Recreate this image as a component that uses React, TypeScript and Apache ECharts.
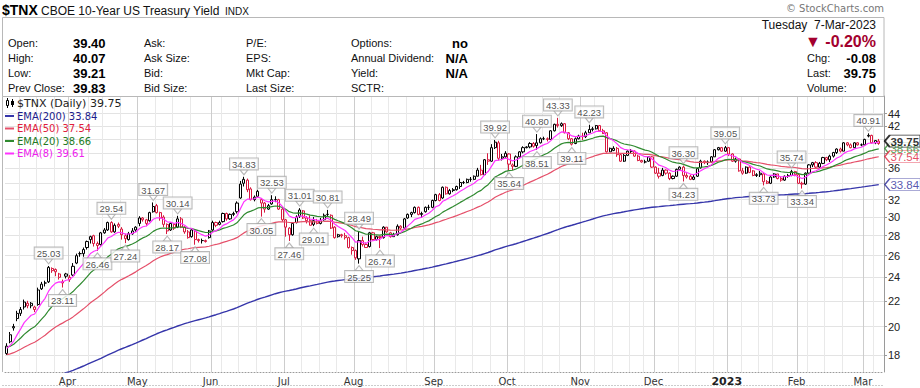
import React, { useEffect, useRef } from 'react';
import * as echarts from 'echarts';

// ---------- calendar ----------
const HOLIDAYS = ['2022-04-15', '2022-05-30', '2022-06-20', '2022-07-04', '2022-09-05', '2022-11-24', '2022-12-26', '2023-01-02', '2023-01-16', '2023-02-20'];
const FIRST_DAY = '2022-03-08';
const LAST_DAY = '2023-03-07';
const PREV_CLOSE_BEFORE_START = 17.8;

// ---------- daily candles: [open, close, low, high] ----------
const mar2022 = [
  [18.1, 18.6, 18.0, 18.8], [18.9, 19.4, 18.8, 19.6], [19.9, 20.0, 19.7, 20.2], [20.6, 21.0, 20.4, 21.2],
  [21.0, 21.3, 20.8, 21.5], [21.5, 21.9, 21.3, 22.1], [21.8, 21.6, 21.4, 22.0], [21.6, 21.8, 21.4, 21.9],
  [21.5, 21.3, 21.1, 21.6], [21.7, 22.9, 21.6, 23.1], [23.0, 23.4, 22.9, 23.6], [23.5, 23.5, 23.2, 23.7],
  [23.6, 24.9, 23.5, 25.03], [24.8, 24.6, 24.4, 24.9], [24.7, 24.5, 24.1, 24.8], [24.3, 24.0, 23.8, 24.4],
  [23.6, 23.5, 23.11, 23.8], [24.1, 24.3, 23.9, 24.4],
];
const apr2022 = [
  [23.8, 24.0, 23.6, 24.2], [24.2, 25.0, 24.1, 25.3], [25.3, 26.0, 25.2, 26.2], [26.2, 26.2, 25.9, 26.4],
  [26.2, 26.6, 25.9, 26.8], [26.8, 27.4, 26.6, 27.5], [27.6, 27.9, 27.2, 28.0], [28.0, 27.2, 26.9, 28.1],
  [27.2, 27.0, 26.46, 27.4], [27.1, 28.3, 27.0, 28.4], [28.3, 28.6, 28.2, 28.8], [28.6, 29.4, 28.5, 29.5],
  [29.4, 28.4, 28.3, 29.54], [28.4, 29.1, 28.3, 29.3], [29.2, 29.0, 28.8, 29.4], [28.7, 28.1, 27.6, 28.9],
  [28.0, 27.7, 27.24, 28.2], [27.6, 28.2, 27.5, 28.4], [28.2, 28.5, 28.1, 28.8], [28.6, 28.9, 28.4, 29.0],
];
const may2022 = [
  [29.3, 29.9, 29.0, 30.1], [29.9, 29.7, 29.5, 30.0], [29.7, 29.3, 29.0, 29.8], [29.6, 30.5, 29.5, 30.6],
  [30.6, 31.2, 30.5, 31.67], [31.3, 30.5, 30.4, 31.5], [30.5, 29.9, 29.6, 30.6], [30.0, 29.2, 28.9, 30.2],
  [29.2, 28.5, 28.17, 29.3], [28.6, 29.3, 28.5, 29.4], [29.2, 28.8, 28.6, 29.3], [28.9, 29.8, 28.8, 30.14],
  [29.8, 28.9, 28.8, 30.0], [28.9, 28.4, 28.2, 29.0], [28.4, 27.8, 27.7, 28.6], [27.9, 28.6, 27.8, 28.7],
  [28.5, 27.6, 27.08, 28.6], [27.6, 27.5, 27.3, 27.7], [27.5, 27.5, 27.2, 27.7], [27.5, 27.4, 27.3, 27.6],
  [27.8, 28.5, 27.7, 28.6],
];
const jun2022 = [
  [28.6, 29.4, 28.5, 29.6], [29.4, 29.1, 28.9, 29.5], [29.2, 29.4, 29.1, 29.6], [29.5, 30.4, 29.4, 30.5],
  [30.4, 29.8, 29.6, 30.5], [29.8, 30.3, 29.7, 30.4], [30.3, 30.4, 30.1, 30.6], [30.6, 31.6, 30.4, 31.8],
  [32.2, 33.9, 32.1, 34.3], [34.0, 34.5, 33.6, 34.83], [34.4, 33.2, 32.9, 34.6], [33.3, 32.0, 31.9, 33.5],
  [32.0, 32.3, 31.8, 32.5], [32.4, 33.0, 32.3, 33.2], [32.0, 31.6, 30.05, 32.2], [31.6, 30.9, 30.5, 31.7],
  [30.9, 31.3, 30.8, 31.5], [31.5, 32.0, 31.4, 32.53], [32.0, 32.0, 31.7, 32.4], [32.0, 30.9, 30.8, 32.1],
  [30.9, 29.7, 29.5, 31.0],
];
const jul2022 = [
  [29.7, 28.9, 27.9, 29.8], [28.8, 28.1, 27.46, 28.9], [28.1, 29.3, 28.0, 29.4], [29.4, 30.0, 29.3, 30.2],
  [30.1, 30.8, 29.9, 31.01], [30.7, 29.9, 29.8, 30.8], [29.9, 29.6, 29.3, 30.1], [29.6, 29.1, 29.1, 30.2],
  [29.2, 29.6, 29.01, 30.0], [29.6, 29.3, 29.2, 29.8], [29.3, 29.6, 29.2, 29.9], [29.7, 30.2, 29.6, 30.4],
  [30.3, 30.3, 30.1, 30.81], [30.2, 28.8, 28.7, 30.3], [28.9, 27.8, 27.7, 29.0], [27.9, 28.1, 27.8, 28.2],
  [28.1, 28.0, 27.8, 28.2], [28.0, 27.8, 27.6, 28.3], [27.8, 26.8, 26.7, 27.9], [26.8, 26.5, 26.1, 26.9],
];
const aug2022 = [
  [26.5, 25.8, 25.6, 26.6], [25.7, 27.5, 25.25, 28.49], [27.5, 27.1, 26.9, 27.9], [27.1, 26.8, 26.8, 27.3],
  [26.9, 28.3, 26.8, 28.4], [28.3, 27.6, 27.5, 28.4], [27.6, 27.9, 27.5, 28.0], [27.9, 27.8, 26.74, 28.0],
  [27.8, 28.9, 27.7, 29.0], [28.9, 28.4, 28.3, 28.9], [28.3, 27.9, 27.8, 28.4], [27.9, 28.1, 27.9, 28.3],
  [28.1, 29.0, 28.0, 29.2], [29.0, 28.8, 28.6, 29.1], [28.8, 29.8, 28.7, 29.9], [29.9, 30.3, 29.8, 30.4],
  [30.3, 30.5, 30.0, 30.6], [30.5, 31.1, 30.4, 31.2], [31.1, 30.3, 30.2, 31.2], [30.3, 30.4, 29.9, 30.6],
  [30.6, 31.1, 30.5, 31.2], [31.1, 31.1, 30.8, 31.4], [31.1, 31.9, 31.0, 32.0],
];
const sep2022 = [
  [31.9, 32.6, 31.8, 32.7], [32.6, 31.9, 31.8, 32.8], [32.2, 33.5, 32.1, 33.6], [33.5, 32.7, 32.6, 33.6],
  [32.7, 33.1, 32.6, 33.3], [33.1, 33.2, 32.9, 33.4], [33.2, 33.6, 33.1, 33.7], [33.6, 34.1, 33.3, 34.6],
  [34.1, 34.1, 33.9, 34.3], [34.1, 34.5, 34.0, 34.6], [34.5, 34.5, 34.2, 34.8], [34.5, 34.9, 34.4, 35.0],
  [34.9, 35.7, 34.9, 36.0], [35.7, 35.1, 35.0, 36.4], [35.1, 37.1, 35.1, 37.2], [37.1, 36.9, 36.4, 38.0],
  [36.9, 38.8, 36.8, 39.3], [38.8, 39.6, 38.6, 39.92], [39.5, 37.3, 37.0, 39.8], [37.3, 37.5, 37.0, 37.9],
  [37.5, 38.0, 37.3, 38.3],
];
const oct2022 = [
  [37.9, 36.5, 35.64, 38.0], [36.4, 36.2, 35.7, 36.6], [36.2, 37.5, 36.1, 37.7], [37.5, 38.2, 37.4, 38.3],
  [38.2, 38.8, 38.0, 39.0], [38.8, 38.9, 38.7, 39.0], [38.9, 39.4, 38.7, 39.6], [39.4, 39.0, 38.8, 39.6],
  [39.1, 39.5, 38.51, 40.8], [39.5, 40.1, 39.4, 40.3], [40.1, 40.1, 39.9, 40.4], [40.1, 40.0, 39.7, 40.3],
  [40.0, 41.3, 40.0, 41.4], [41.3, 42.3, 41.2, 42.4], [42.3, 42.1, 41.8, 43.33], [42.1, 42.4, 41.9, 42.6],
  [42.4, 41.0, 40.9, 42.5], [41.0, 40.1, 39.9, 41.1], [40.1, 39.3, 39.11, 40.2], [39.4, 40.1, 39.3, 40.3],
  [40.1, 40.5, 40.0, 40.7],
];
const nov2022 = [
  [40.5, 40.4, 39.9, 41.0], [40.4, 41.0, 40.2, 41.3], [41.0, 41.5, 41.0, 42.23], [41.5, 41.6, 41.2, 41.9],
  [41.6, 42.1, 41.5, 42.2], [42.1, 41.3, 41.2, 42.2], [41.3, 40.9, 40.8, 41.6], [41.0, 38.2, 38.1, 41.1],
  [38.2, 38.7, 38.2, 38.8], [38.4, 38.7, 38.3, 39.0], [38.7, 37.8, 37.5, 38.9], [37.8, 36.9, 36.8, 37.9],
  [36.9, 37.7, 36.8, 37.9], [37.7, 38.3, 37.6, 38.4], [38.3, 38.3, 38.0, 38.6], [38.3, 37.6, 37.5, 38.4],
  [37.6, 37.0, 36.9, 37.8], [37.0, 36.8, 36.7, 37.1], [36.8, 36.8, 36.6, 37.1], [36.9, 37.5, 36.8, 37.6],
  [37.5, 36.1, 36.0, 37.6],
];
const dec2022 = [
  [36.1, 35.3, 35.2, 36.2], [35.3, 34.9, 34.6, 36.0], [35.0, 35.7, 34.9, 36.0], [35.7, 35.3, 35.1, 35.8],
  [35.3, 34.6, 34.4, 35.4], [34.6, 34.9, 34.5, 35.0], [34.9, 35.8, 34.8, 35.9], [35.8, 36.1, 35.6, 36.2],
  [36.1, 35.0, 34.23, 36.3], [35.0, 34.8, 34.6, 35.3], [34.9, 34.5, 34.4, 35.1], [34.5, 34.8, 34.4, 35.1],
  [34.9, 35.9, 34.8, 36.0], [36.0, 36.9, 35.9, 37.1], [36.9, 36.7, 36.5, 37.0], [36.7, 36.8, 36.4, 37.0],
  [36.8, 37.5, 36.7, 37.6], [37.5, 38.5, 37.5, 38.6], [38.5, 38.8, 38.4, 38.9], [38.8, 38.3, 38.2, 38.9],
  [38.3, 38.8, 38.2, 39.05],
];
const jan2023 = [
  [38.8, 37.9, 37.6, 38.9], [37.9, 36.9, 36.8, 38.0], [36.9, 37.2, 36.7, 37.4], [37.2, 35.6, 35.5, 37.3],
  [35.6, 35.3, 35.1, 36.0], [35.3, 36.1, 35.2, 36.2], [36.1, 35.4, 35.3, 36.2], [35.6, 35.0, 34.9, 35.7],
  [35.0, 35.1, 34.8, 35.3], [35.1, 35.3, 34.8, 35.6], [35.2, 34.2, 33.73, 35.3], [34.2, 34.0, 33.9, 34.4],
  [34.0, 34.8, 33.9, 34.9], [34.8, 35.2, 34.7, 35.3], [35.2, 34.6, 34.5, 35.2], [34.6, 34.4, 34.2, 34.8],
  [34.4, 34.9, 34.3, 35.0], [34.9, 35.0, 34.7, 35.2], [35.0, 35.5, 34.9, 35.74], [35.5, 35.1, 34.9, 35.6],
];
const feb2023 = [
  [35.1, 34.0, 33.9, 35.2], [34.0, 33.9, 33.34, 34.2], [33.9, 35.3, 33.8, 35.4], [35.3, 36.4, 35.2, 36.5],
  [36.4, 36.7, 36.1, 36.8], [36.7, 36.1, 36.0, 36.9], [36.1, 36.6, 36.0, 36.8], [36.6, 37.4, 36.5, 37.5],
  [37.4, 37.1, 36.9, 37.5], [37.1, 37.6, 36.8, 37.8], [37.6, 38.1, 37.4, 38.2], [38.1, 38.6, 37.9, 38.7],
  [38.6, 38.3, 38.1, 38.8], [38.3, 39.5, 38.3, 39.6], [39.5, 39.2, 39.0, 39.6], [39.2, 38.8, 38.7, 39.4],
  [38.8, 39.5, 38.8, 39.6], [39.5, 39.2, 39.1, 39.6], [39.2, 39.2, 39.0, 39.4],
];
const mar2023 = [
  [39.2, 40.0, 39.1, 40.1], [40.5, 40.6, 40.3, 40.91], [40.6, 39.5, 39.4, 40.7], [39.5, 39.83, 39.3, 39.9],
  [39.4, 39.75, 39.21, 40.07],
];

// EMA values on the day before the first visible day
const EMA_SEED_8 = 18.4;
const EMA_SEED_20 = 18.5;
const EMA_SEED_50 = 18.0;
const EMA_SEED_200 = 15.75;

// swing annotations: date and whether the high or the low is labelled
const ANNOTATIONS: [string, 'H' | 'L'][] = [
  ['2022-03-24', 'H'], ['2022-03-30', 'L'], ['2022-04-13', 'L'], ['2022-04-20', 'H'], ['2022-04-26', 'L'],
  ['2022-05-06', 'H'], ['2022-05-12', 'L'], ['2022-05-17', 'H'], ['2022-05-24', 'L'], ['2022-06-14', 'H'],
  ['2022-06-22', 'L'], ['2022-06-27', 'H'], ['2022-07-05', 'L'], ['2022-07-08', 'H'], ['2022-07-14', 'L'],
  ['2022-07-20', 'H'], ['2022-08-02', 'H'], ['2022-08-02', 'L'], ['2022-08-10', 'L'], ['2022-09-27', 'H'],
  ['2022-10-03', 'L'], ['2022-10-13', 'H'], ['2022-10-13', 'L'], ['2022-10-21', 'H'], ['2022-10-27', 'L'],
  ['2022-11-03', 'H'], ['2022-12-13', 'H'], ['2022-12-13', 'L'], ['2022-12-30', 'H'], ['2023-01-18', 'L'],
  ['2023-01-30', 'H'], ['2023-02-02', 'L'], ['2023-03-02', 'H'],
];

const Y_TICKS = [18, 20, 22, 24, 26, 28, 30, 32, 34, 36, 38, 40, 42, 44];
const Y_TICK_LABELS = [18, 20, 22, 24, 26, 28, 30, 32, 36, 42, 44];
const Y_MIN = 16.9;
const Y_MAX = 46.98;
const MONTHS = ['Jan', 'Feb', 'Mar', 'Apr', 'May', 'Jun', 'Jul', 'Aug', 'Sep', 'Oct', 'Nov', 'Dec'];

// texts of the header and legend
const LAST_PRICE = '39.75';
const EMA200_LAST = '33.84';
const EMA50_LAST = '37.54';
const EMA20_LAST = '38.66';
const EMA8_LAST = '39.61';
const QUOTE_LEFT = [['Open:', '39.40'], ['High:', '40.07'], ['Low:', '39.21'], ['Prev Close:', '39.83']];
const QUOTE_COL2 = ['Ask:', 'Ask Size:', 'Bid:', 'Bid Size:'];
const QUOTE_COL3 = ['P/E:', 'EPS:', 'Mkt Cap:', 'Last Size:'];
const QUOTE_COL4 = [['Options:', 'no'], ['Annual Dividend:', 'N/A'], ['Yield:', 'N/A'], ['SCTR:', '']];
const QUOTE_RIGHT = [['Chg:', '-0.08'], ['Last:', '39.75'], ['Volume:', '0']];
const QUOTE_DATE = 'Tuesday  7-Mar-2023';
const QUOTE_PCT = '\u25BC -0.20%';

const BLACK = '#000000';
const RED = '#d7173e';
const C200 = '#3636aa';
const C50 = '#e5506a';
const C20 = '#2f8a2f';
const C8 = '#ff33ff';

function tradingDays(): string[] {
  const out: string[] = [];
  const d = new Date(FIRST_DAY + 'T00:00:00Z');
  const end = new Date(LAST_DAY + 'T00:00:00Z');
  while (d.getTime() <= end.getTime()) {
    const wd = d.getUTCDay();
    const s = d.toISOString().slice(0, 10);
    if (wd !== 0 && wd !== 6 && HOLIDAYS.indexOf(s) < 0) out.push(s);
    d.setUTCDate(d.getUTCDate() + 1);
  }
  return out;
}

function buildOption() {
  const days = tradingDays();
  const ohlc = [...mar2022, ...apr2022, ...may2022, ...jun2022, ...jul2022, ...aug2022, ...sep2022,
    ...oct2022, ...nov2022, ...dec2022, ...jan2023, ...feb2023, ...mar2023];
  const cats = [...days, ''];
  const L = Math.log;
  const closes = ohlc.map((d) => d[1]);
  const ema = (p: number, seed: number) => {
    const a = 2 / (p + 1);
    let e = seed;
    return closes.map((c) => (e = e + a * (c - e)));
  };
  const e8 = ema(8, EMA_SEED_8);
  const e20 = ema(20, EMA_SEED_20);
  const e50 = ema(50, EMA_SEED_50);
  const e200 = ema(200, EMA_SEED_200);

  const month = (s: string) => Number(s.slice(5, 7));
  const monthStart = cats.map((s, i) => i > 0 && s !== '' && month(s) !== month(cats[i - 1]));
  const dow = (s: string) => new Date(s + 'T00:00:00Z').getUTCDay();
  const weekStart = cats.map((s, i) => i > 0 && s !== '' && dow(s) <= dow(cats[i - 1]));
  const weekLine = weekStart.map((w, i) => {
    if (!w || monthStart[i]) return false;
    for (let j = i - 2; j <= i + 2; j++) if (monthStart[j]) return false;
    return true;
  });

  const candleData = ohlc.map((d, i) => {
    const prev = i === 0 ? PREV_CLOSE_BEFORE_START : ohlc[i - 1][1];
    const col = d[1] >= prev ? BLACK : RED;
    return {
      value: [L(d[0]), L(d[1]), L(d[2]), L(d[3])],
      itemStyle: { color: '#ffffff', color0: col, borderColor: col, borderColor0: col, borderColorDoji: col },
    };
  });

  const downTri = 'path://M0,0L8,0L4,5Z';
  const upTri = 'path://M4,0L8,5L0,5Z';
  const annData = ANNOTATIONS.map(([date, hl]) => {
    const idx = days.indexOf(date);
    const v = hl === 'H' ? ohlc[idx][3] : ohlc[idx][2];
    return {
      value: [idx, L(v)],
      symbol: hl === 'H' ? downTri : upTri,
      symbolOffset: [0, hl === 'H' ? -4.5 : 4.5],
      label: { position: hl === 'H' ? 'top' : 'bottom', formatter: v.toFixed(2) },
    };
  });

  const last = ohlc.length - 1;
  const tagPath = 'path://M0,6L5,0L36,0L36,12L5,12Z';
  const tag = (val: string, col: string, bold: boolean) => ({
    value: [last, L(parseFloat(val))],
    itemStyle: { color: '#ffffff', borderColor: col, borderWidth: bold ? 1.4 : 1 },
    label: { formatter: val, color: col, fontWeight: bold ? 'bold' : 'normal' },
  });

  const line = (data: number[], color: string, width: number, z: number) => ({
    type: 'line', data: data.map(L), xAxisIndex: 0, yAxisIndex: 0, symbol: 'none', showSymbol: false,
    lineStyle: { color, width }, z, silent: true, emphasis: { disabled: true }, animation: false,
  });

  const font = (size: number, bold = false, fam = '"Liberation Sans", Arial, sans-serif') =>
    `${bold ? 'bold ' : ''}${size}px ${fam}`;
  const txt = (text: string, x: number, y: number, f: string, fill = '#111', align = 'left') => ({
    type: 'text', x, y, silent: true, z: 50,
    style: { text, font: f, fill, align, verticalAlign: 'middle' },
  });
  const hline = (x1: number, y1: number, x2: number, y2: number, stroke: string, dash?: number[]) => ({
    type: 'line', silent: true, z: 40,
    shape: { x1, y1, x2, y2 },
    style: { stroke, lineWidth: 1, lineDash: dash },
  });

  const rowsY = [43, 58, 73, 88];
  const graphics: any[] = [
    txt('$TNX', 2, 10, font(14, true), '#000'),
    txt('CBOE 10-Year US Treasury Yield', 41, 10.5, font(12), '#111'),
    txt('INDX', 225, 11, font(10), '#111'),
    txt('\u00A9 StockCharts.com', 884, 8.5, font(10, false, '"DejaVu Sans", sans-serif'), '#777', 'right'),
    { type: 'rect', silent: true, z: 40, shape: { x: 2.5, y: 17.5, width: 881.5, height: 79 }, style: { fill: 'none', stroke: '#b8b8b8', lineWidth: 1 } },
    hline(2.5, 96.5, 2.5, 372, '#b8b8b8'),
    hline(2.5, 385.5, 884.5, 385.5, '#999999', [1, 2]),
    txt(QUOTE_DATE, 876, 25, font(12), '#111', 'right'),
    txt(QUOTE_PCT, 876, 41, font(16, true), '#a3002e', 'right'),
  ];
  QUOTE_LEFT.forEach(([k, v], i) => {
    graphics.push(txt(k, 8, rowsY[i], font(11)));
    graphics.push(txt(v, 73, rowsY[i], font(13, true), '#000'));
  });
  QUOTE_COL2.forEach((k, i) => graphics.push(txt(k, 144, rowsY[i], font(11))));
  QUOTE_COL3.forEach((k, i) => graphics.push(txt(k, 246, rowsY[i], font(11))));
  QUOTE_COL4.forEach(([k, v], i) => {
    graphics.push(txt(k, 351, rowsY[i], font(11)));
    if (v) graphics.push(txt(v, 468, rowsY[i], font(13, true), '#000', 'right'));
  });
  QUOTE_RIGHT.forEach(([k, v], i) => {
    graphics.push(txt(k, 807, rowsY[i + 1], font(11)));
    graphics.push(txt(v, 876, rowsY[i + 1], font(13, true), '#000', 'right'));
  });
  // legend
  const lf = '"DejaVu Sans", Verdana, sans-serif';
  graphics.push(
    hline(7.5, 98, 7.5, 108, '#000'),
    { type: 'rect', silent: true, z: 51, shape: { x: 6.5, y: 100.5, width: 2, height: 5 }, style: { fill: '#fff', stroke: '#000', lineWidth: 1 } },
    hline(12.5, 99, 12.5, 107, '#000'),
    { type: 'rect', silent: true, z: 51, shape: { x: 11, y: 101, width: 3, height: 4 }, style: { fill: '#000' } },
    txt('$TNX (Daily) ' + LAST_PRICE, 17, 103.5, font(11, false, lf), '#222'),
  );
  const legendRows: [string, string, string, string][] = [
    ['EMA(200) ', EMA200_LAST, C200, '#1c1c8c'],
    ['EMA(50) ', EMA50_LAST, C50, '#e0203c'],
    ['EMA(20) ', EMA20_LAST, C20, '#237a23'],
    ['EMA(8) ', EMA8_LAST, C8, '#ee22ee'],
  ];
  legendRows.forEach(([name, val, lc, tc], i) => {
    const y = 116 + i * 12.5;
    graphics.push({ type: 'line', silent: true, z: 51, shape: { x1: 5, y1: y, x2: 14, y2: y }, style: { stroke: lc, lineWidth: 2 } });
    graphics.push(txt(name + val, 17, y, font(10, false, lf), tc));
  });

  return {
    animation: false,
    backgroundColor: '#ffffff',
    textStyle: { fontFamily: '"Liberation Sans", Arial, sans-serif' },
    grid: { left: 5, right: 36, top: 96, bottom: 16, containLabel: false, outerBoundsMode: 'none' },
    xAxis: [
      {
        type: 'category', data: cats, boundaryGap: true, position: 'bottom',
        axisLine: { show: true, lineStyle: { color: '#9a9a9a', type: [1, 2] } },
        axisTick: { show: false }, axisLabel: { show: false },
        splitLine: { show: true, interval: (i: number) => weekLine[i], lineStyle: { color: '#e9e9e9', width: 1 } },
      },
      {
        type: 'category', data: cats, boundaryGap: true, position: 'bottom',
        axisLine: { show: false }, axisTick: { show: false },
        axisLabel: {
          show: true, interval: (i: number) => monthStart[i], margin: 4, padding: [0, 4, 0, 0],
          fontFamily: lf, fontSize: 10, color: '#333',
          formatter: (v: string) => {
            if (!v) return '';
            const m = month(v);
            return m === 1 ? '{y|' + v.slice(0, 4) + '}' : MONTHS[m - 1];
          },
          rich: { y: { fontFamily: lf, fontSize: 11, fontWeight: 'bold', color: '#222' } },
        },
        splitLine: { show: true, interval: (i: number) => monthStart[i], lineStyle: { color: '#cdcdcd', width: 1 } },
      },
    ],
    yAxis: {
      type: 'value', position: 'right', min: L(Y_MIN), max: L(Y_MAX),
      axisLine: { show: true, lineStyle: { color: '#9a9a9a' } },
      axisTick: { show: true, customValues: Y_TICKS.map(L), length: 3, lineStyle: { color: '#9a9a9a' } },
      axisLabel: {
        show: true, customValues: Y_TICK_LABELS.map(L), margin: 4, fontSize: 11, color: '#222',
        formatter: (v: number) => String(Math.round(Math.exp(v))),
      },
      splitLine: { show: true, lineStyle: { color: '#e3e3e3', width: 1 } },
    },
    series: [
      {
        type: 'candlestick', data: candleData, xAxisIndex: 0, yAxisIndex: 0, barWidth: 2.6, z: 3,
        silent: true, emphasis: { disabled: true }, animation: false,
      },
      line(e200, C200, 1.4, 4),
      line(e50, C50, 1.2, 4),
      line(e20, C20, 1.2, 4),
      line(e8, C8, 1.2, 5),
      {
        type: 'scatter', data: annData, xAxisIndex: 0, yAxisIndex: 0, symbolSize: [8, 5], z: 6, clip: false,
        silent: true, emphasis: { disabled: true },
        itemStyle: { color: '#ffffff', borderColor: '#a8a8a8', borderWidth: 1 },
        label: {
          show: true, distance: 0, fontFamily: '"Liberation Sans", Arial, sans-serif', fontSize: 9.5, color: '#222',
          backgroundColor: '#ffffff', borderColor: '#a8a8a8', borderWidth: 1, padding: [1, 2, 0, 2], lineHeight: 10,
        },
      },
      {
        type: 'scatter', xAxisIndex: 0, yAxisIndex: 0, clip: false, z: 10, silent: true, emphasis: { disabled: true },
        symbol: tagPath, symbolSize: [36, 12], symbolOffset: [24, 0], symbolKeepAspect: false,
        label: { show: true, position: 'inside', offset: [2, 0.5], fontSize: 11.5, fontFamily: '"Liberation Sans", Arial, sans-serif' },
        data: [
          tag(EMA20_LAST, C20, false),
          tag(EMA200_LAST, '#2a2a9a', false),
          tag(EMA50_LAST, '#e0203c', false),
          tag(LAST_PRICE, '#000000', true),
        ],
      },
    ],
    graphic: graphics,
  };
}

export default function App() {
  const ref = useRef<HTMLDivElement>(null);
  useEffect(() => {
    if (!ref.current) return;
    const chart = echarts.init(ref.current, null, { renderer: 'svg' });
    chart.setOption(buildOption() as any);
    return () => chart.dispose();
  }, []);
  return (
    <div
      ref={ref}
      style={{ position: 'absolute', left: 0, top: 0, width: '920px', height: '388px', background: '#fff' }}
    />
  );
}
